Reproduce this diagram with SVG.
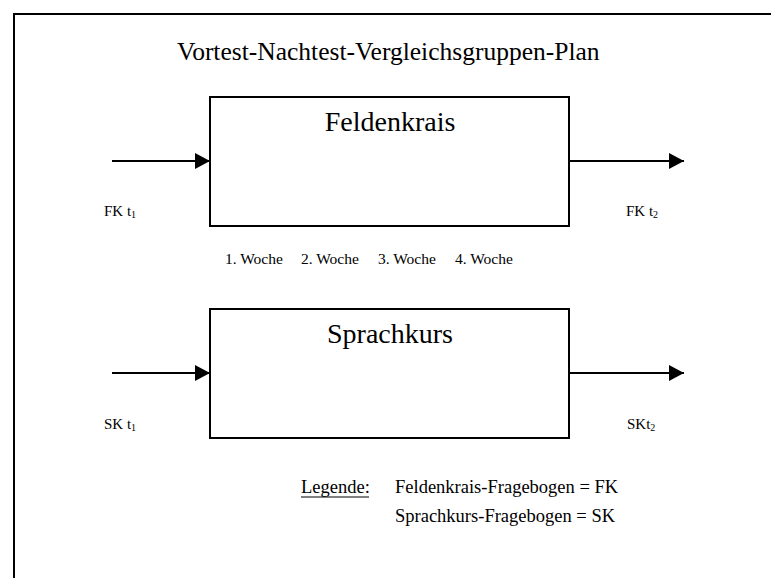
<svg xmlns="http://www.w3.org/2000/svg" width="771" height="578" viewBox="0 0 771 578">
<style>
text{font-family:"Liberation Serif","Times New Roman",serif;fill:#000}
.box{fill:#fff;stroke:#000;stroke-width:2}
.ln{stroke:#000;stroke-width:2;fill:none}
.lbl{font-size:15px}
.sub{font-size:10px}
.wk{font-size:15.5px}
.lg{font-size:18.5px}
.nm{font-size:28px}
</style>
<defs>
<marker id="ah" markerWidth="16" markerHeight="16" refX="15" refY="8" orient="auto" markerUnits="userSpaceOnUse" viewBox="0 0 16 16">
<path d="M0,0 L15,8 L0,16 Z" fill="#000"/>
</marker>
</defs>
<rect width="771" height="578" fill="#fff"/>
<path d="M14,578 V14 H771" fill="none" stroke="#000" stroke-width="2"/>
<text id="title" x="177" y="60" font-size="25.5">Vortest-Nachtest-Vergleichsgruppen-Plan</text>
<g id="connectors">
<line class="ln" x1="112" y1="161" x2="210" y2="161" marker-end="url(#ah)"/>
<line class="ln" x1="570" y1="161" x2="684" y2="161" marker-end="url(#ah)"/>
<line class="ln" x1="112" y1="373" x2="210" y2="373" marker-end="url(#ah)"/>
<line class="ln" x1="570" y1="373" x2="684" y2="373" marker-end="url(#ah)"/>
</g>
<g id="feldenkrais">
<rect class="box" x="210" y="97" width="359" height="129"/>
<text class="nm" x="390" y="131" text-anchor="middle">Feldenkrais</text>
</g>
<g id="sprachkurs">
<rect class="box" x="210" y="309" width="359" height="129"/>
<text class="nm" x="390" y="343" text-anchor="middle">Sprachkurs</text>
</g>
<g id="labels">
<text class="lbl" x="104" y="216">FK t<tspan class="sub" dy="2">1</tspan></text>
<text class="lbl" x="626" y="216">FK t<tspan class="sub" dy="2">2</tspan></text>
<text class="lbl" x="104" y="429">SK t<tspan class="sub" dy="2">1</tspan></text>
<text class="lbl" x="627" y="429">SKt<tspan class="sub" dy="2">2</tspan></text>
</g>
<g id="weeks">
<text class="wk" x="225" y="264">1. Woche</text>
<text class="wk" x="301" y="264">2. Woche</text>
<text class="wk" x="378" y="264">3. Woche</text>
<text class="wk" x="455" y="264">4. Woche</text>
</g>
<g id="legend">
<text class="lg" x="301" y="493">Legende:</text>
<line x1="301" y1="497" x2="369" y2="497" stroke="#000" stroke-width="1"/>
<text class="lg" x="395" y="493">Feldenkrais-Fragebogen = FK</text>
<text class="lg" x="395" y="522">Sprachkurs-Fragebogen = SK</text>
</g>
</svg>
